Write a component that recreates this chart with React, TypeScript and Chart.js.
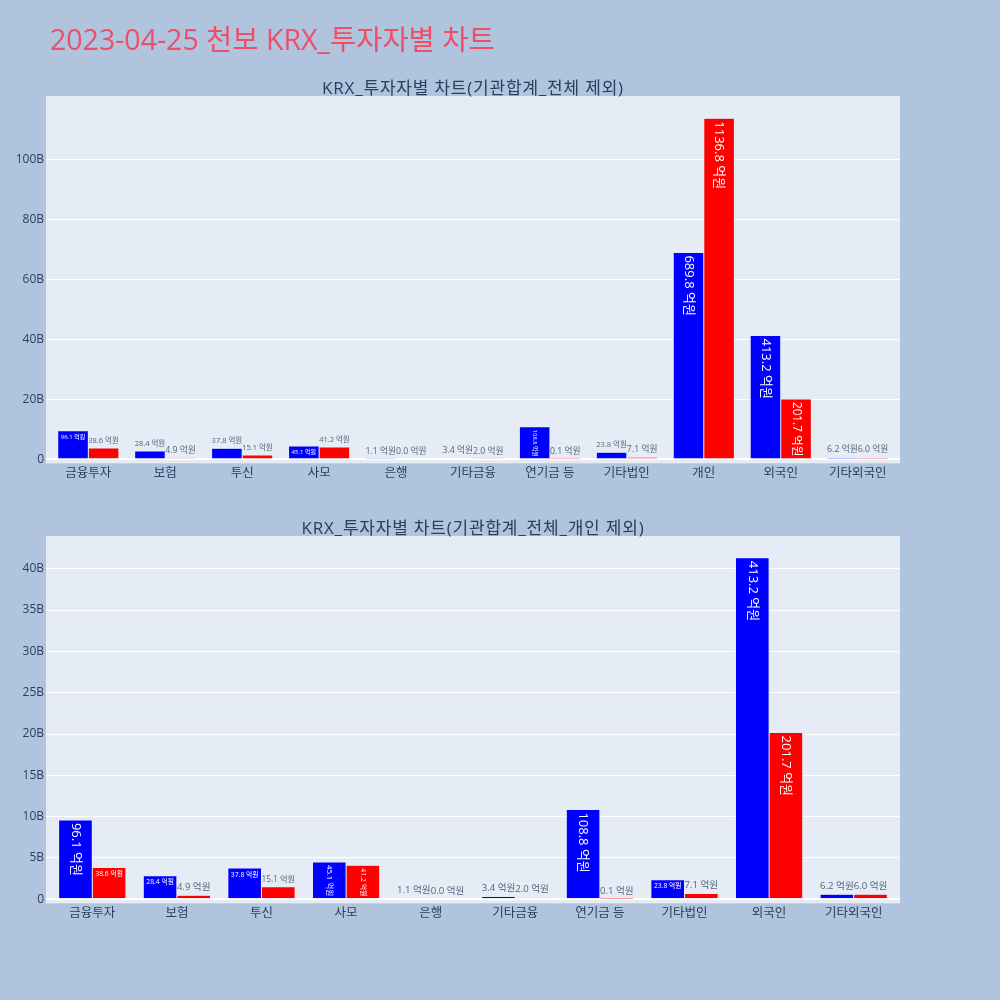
import React, { useEffect, useRef } from 'react';
import { Chart, registerables } from 'chart.js';

Chart.register(...registerables);

// ---------- data (억원) ----------
const categoriesAll = ['금융투자', '보험', '투신', '사모', '은행', '기타금융', '연기금 등', '기타법인', '개인', '외국인', '기타외국인'];
const buyAll = [96.1, 28.4, 37.8, 45.1, 1.1, 3.4, 108.8, 23.8, 689.8, 413.2, 6.2];
const sellAll = [38.6, 4.9, 15.1, 41.2, 0.0, 2.0, 0.1, 7.1, 1136.8, 201.7, 6.0];

const categoriesNoPersonal = ['금융투자', '보험', '투신', '사모', '은행', '기타금융', '연기금 등', '기타법인', '외국인', '기타외국인'];
const buyNoPersonal = [96.1, 28.4, 37.8, 45.1, 1.1, 3.4, 108.8, 23.8, 413.2, 6.2];
const sellNoPersonal = [38.6, 4.9, 15.1, 41.2, 0.0, 2.0, 0.1, 7.1, 201.7, 6.0];

const topTicks = [0, 200, 400, 600, 800, 1000];
const bottomTicks = [0, 50, 100, 150, 200, 250, 300, 350, 400];

const mainTitle = '2023-04-25 천보 KRX_투자자별 차트';
const topTitle = 'KRX_투자자별 차트(기관합계_전체 제외)';
const bottomTitle = 'KRX_투자자별 차트(기관합계_전체_개인 제외)';
const unit = ' 억원';

// ---------- style ----------
const FONT = "'Open Sans', 'Noto Sans CJK KR', sans-serif";
const PAPER = '#B0C4DE';
const PLOT_BG = '#E5ECF6';
const AXIS_COLOR = '#2a3f5f';
const OUT_TEXT = '#56647b';
const BLUE = '#0000FF';
const RED = '#FF0000';
const TEXTPAD = 3;
const BASE_SIZE = 13;

const bgPlugin = {
  id: 'plotBg',
  beforeDraw(chart: any) {
    const { ctx, chartArea } = chart;
    ctx.save();
    ctx.fillStyle = PLOT_BG;
    ctx.fillRect(chartArea.left, chartArea.top, chartArea.right - chartArea.left, chartArea.bottom - chartArea.top);
    ctx.restore();
  },
};

const barTextPlugin = {
  id: 'barText',
  afterDatasetsDraw(chart: any) {
    const { ctx } = chart;
    const yScale = chart.scales.y;
    ctx.save();
    ctx.font = `${BASE_SIZE}px ${FONT}`;
    const th = 0.27 * ctx.measureText('45.1' + unit).width;
    chart.data.datasets.forEach((ds: any, di: number) => {
      const meta = chart.getDatasetMeta(di);
      meta.data.forEach((el: any, i: number) => {
        const val = ds.data[i].y;
        const text = val.toFixed(1) + unit;
        const p = el.getProps(['x', 'width'], true);
        const y0 = yScale.getPixelForValue(0);
        const y1 = yScale.getPixelForValue(val);
        const top = Math.min(y0, y1);
        const bottom = Math.max(y0, y1);
        const bw = p.width;
        const bh = bottom - top;
        ctx.font = `${BASE_SIZE}px ${FONT}`;
        const tw = ctx.measureText(text).width;
        const barW = bw - 2 * TEXTPAD;
        const barH = bh - 2 * TEXTPAD;
        const fitsInside = tw <= barW && th <= barH;
        const fitsRot = tw <= barH && th <= barW;
        const fitsShrunk = barH >= th * (barW / tw);
        const inside = bh > 0 && (fitsInside || fitsRot || fitsShrunk);
        ctx.textAlign = 'center';
        ctx.textBaseline = 'middle';
        if (inside) {
          const pad = bw > 2 * TEXTPAD && bh > 2 * TEXTPAD ? TEXTPAD : 0;
          const lx = bw - 2 * pad;
          const ly = bh - 2 * pad;
          let rotate = false;
          if (!(tw <= lx && th <= ly) && (tw > lx || th > ly) && (!(tw > ly || th > lx) || ((tw < th) !== (lx < ly)))) {
            rotate = true;
          }
          const txw = rotate ? th : tw;
          const txh = rotate ? tw : th;
          const s = Math.min(1, lx / txw, ly / txh);
          const cx = p.x;
          const cy = top + pad + (txh * s) / 2;
          ctx.save();
          ctx.translate(cx, cy);
          if (rotate) ctx.rotate(Math.PI / 2);
          ctx.scale(s, s);
          ctx.fillStyle = '#ffffff';
          ctx.fillText(text, 0, 0);
          ctx.restore();
        } else {
          const s = Math.min(1, bw / tw);
          const cx = p.x;
          const cy = top - TEXTPAD - (th * s) / 2;
          ctx.save();
          ctx.translate(cx, cy);
          ctx.scale(s, s);
          ctx.fillStyle = OUT_TEXT;
          ctx.fillText(text, 0, 0);
          ctx.restore();
        }
      });
    });
    ctx.restore();
  },
};

type Cfg = {
  categories: string[];
  buy: number[];
  sell: number[];
  ticks: number[];
  yMin: number;
  yMax: number;
  xPad: number;
  padTop: number;
  padBottom: number;
};

function makeChart(canvas: HTMLCanvasElement, c: Cfg) {
  const n = c.categories.length;
  return new Chart(canvas, {
    type: 'bar',
    data: {
      datasets: [
        {
          data: c.buy.map((v, i) => ({ x: i, y: v })),
          backgroundColor: BLUE,
          borderColor: PLOT_BG,
          borderWidth: 0.5,
          categoryPercentage: 0.795,
          barPercentage: 1.0,
        } as any,
        {
          data: c.sell.map((v, i) => ({ x: i, y: v })),
          backgroundColor: RED,
          borderColor: PLOT_BG,
          borderWidth: 0.5,
          categoryPercentage: 0.795,
          barPercentage: 1.0,
        } as any,
      ],
    },
    options: {
      animation: false,
      responsive: false,
      maintainAspectRatio: false,
      layout: { padding: { left: 0, right: 100, top: c.padTop, bottom: c.padBottom } },
      plugins: { legend: { display: false }, tooltip: { enabled: false }, title: { display: false } },
      scales: {
        x: {
          type: 'linear',
          offset: false,
          min: -0.5 - c.xPad,
          max: n - 0.5 + c.xPad,
          grid: { display: false, drawTicks: false },
          border: { display: false },
          afterBuildTicks: (scale: any) => {
            scale.ticks = c.categories.map((_, i) => ({ value: i }));
          },
          afterFit: (scale: any) => {
            scale.height = 30;
          },
          ticks: {
            autoSkip: false,
            maxRotation: 0,
            minRotation: 0,
            padding: 3,
            color: AXIS_COLOR,
            font: { family: FONT, size: 12.5 },
            callback: (v: any) => c.categories[Math.round(Number(v))] ?? '',
          },
        },
        y: {
          type: 'linear',
          min: c.yMin,
          max: c.yMax,
          grid: {
            color: '#ffffff',
            drawTicks: false,
            lineWidth: (ctx: any) => (ctx.tick && ctx.tick.value === 0 ? 2 : 1),
          },
          border: { display: false },
          afterBuildTicks: (scale: any) => {
            scale.ticks = c.ticks.map((v) => ({ value: v }));
          },
          afterFit: (scale: any) => {
            scale.width = 46;
          },
          ticks: {
            padding: 2,
            color: AXIS_COLOR,
            font: { family: FONT, size: 12 },
            callback: (v: any) => (Number(v) === 0 ? '0' : `${Number(v) / 10}B`),
          },
        },
      },
    } as any,
    plugins: [bgPlugin, barTextPlugin],
  });
}

export default function App() {
  const topRef = useRef<HTMLCanvasElement>(null);
  const bottomRef = useRef<HTMLCanvasElement>(null);

  useEffect(() => {
    const c1 = makeChart(topRef.current!, {
      categories: categoriesAll,
      buy: buyAll,
      sell: sellAll,
      ticks: topTicks,
      yMin: -12.7,
      yMax: 1211,
      xPad: 0.05,
      padTop: 96,
      padBottom: 6.7,
    });
    const c2 = makeChart(bottomRef.current!, {
      categories: categoriesNoPersonal,
      buy: buyNoPersonal,
      sell: sellNoPersonal,
      ticks: bottomTicks,
      yMin: -4.84,
      yMax: 439.6,
      xPad: 0.047,
      padTop: 36,
      padBottom: 66.7,
    });
    return () => {
      c1.destroy();
      c2.destroy();
    };
  }, []);

  const sub: React.CSSProperties = {
    position: 'absolute',
    left: 46,
    width: 854,
    textAlign: 'center',
    fontFamily: FONT,
    fontSize: 17,
    letterSpacing: '0.8px',
    lineHeight: '17px',
    color: AXIS_COLOR,
    whiteSpace: 'nowrap',
  };

  return (
    <div style={{ position: 'absolute', left: 0, top: 0, width: 1000, height: 1000, background: PAPER, overflow: 'hidden' }}>
      <canvas ref={topRef} width={1000} height={500} style={{ position: 'absolute', left: 0, top: 0, width: 1000, height: 500 }} />
      <canvas ref={bottomRef} width={1000} height={500} style={{ position: 'absolute', left: 0, top: 500, width: 1000, height: 500 }} />
      <div
        style={{
          position: 'absolute',
          left: 50,
          top: 25.3,
          fontFamily: FONT,
          fontSize: 28.5,
          lineHeight: '28.5px',
          color: '#EE4E68',
          whiteSpace: 'nowrap',
        }}
      >
        {mainTitle}
      </div>
      <div style={{ ...sub, top: 79.2 }}>{topTitle}</div>
      <div style={{ ...sub, top: 519.2 }}>{bottomTitle}</div>
    </div>
  );
}
